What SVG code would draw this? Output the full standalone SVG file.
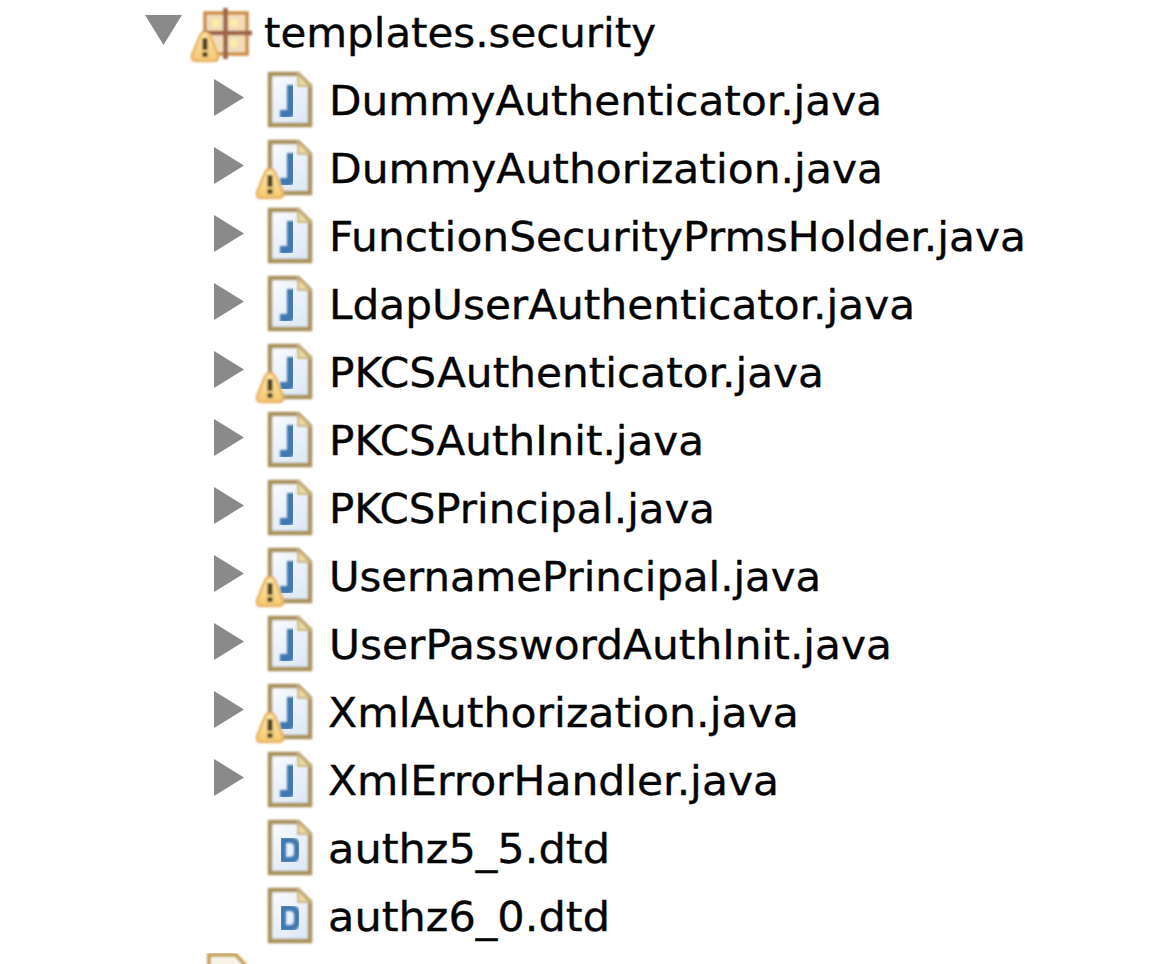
<svg xmlns="http://www.w3.org/2000/svg" width="1164" height="964" viewBox="0 0 1164 964">
<style>
text{font-family:"DejaVu Sans","Liberation Sans",sans-serif;font-size:40px;fill:#050505;stroke:#050505;stroke-width:.35}
.tri{fill:#8a8a8a}
.glyph{fill:none;stroke:#3f78b0;stroke-width:8}
.glyph-d{fill:none;stroke:#3f78b0;stroke-width:6}
</style>
<defs>
<linearGradient id="page" x1="0" y1="0" x2="0.6" y2="1"><stop offset="0" stop-color="#fafcff"/><stop offset="1" stop-color="#dfe9f6"/></linearGradient>
<linearGradient id="warn" x1="0" y1="0" x2="0" y2="1"><stop offset="0" stop-color="#fdeaa8"/><stop offset="1" stop-color="#f3c873"/></linearGradient>
<filter id="soft" x="-10%" y="-10%" width="120%" height="120%"><feGaussianBlur stdDeviation="0.8"/></filter>
<g id="file" filter="url(#soft)">
<path d="M270 74H298L310 86V125H270Z" fill="url(#page)" stroke="#a8925c" stroke-width="4.500"/>
<path d="M298 74V86H310Z" fill="#ecd9a4" stroke="#c9b27a" stroke-width="2"/>
</g>
<g id="arrow"><path class="tri" d="M214 79L244 97.500L214 116Z"/></g>
<g id="warnicon" filter="url(#soft)">
<path d="M270 169Q274 169 276 175L283 192Q284 198 279 198H261Q256 198 257 192L264 175Q266 169 270 169Z" fill="url(#warn)" stroke="#e8b265" stroke-width="2.500"/>
<rect x="267.500" y="175" width="5" height="12" fill="#4d3a1a"/><rect x="267.500" y="189" width="5" height="5" fill="#4d3a1a"/>
</g>
<path id="j" class="glyph" filter="url(#soft)" d="M291 85V111Q291 114 288 114H280"/>
<path id="d" class="glyph-d" filter="url(#soft)" d="M283 840H290Q297 840 297 847V853Q297 860 290 860H283Z"/>
</defs>
<g id="package-row">
<path d="M145 15H182L163.500 45Z" class="tri"/>
<g filter="url(#soft)">
<rect x="205" y="13" width="42" height="41" fill="#f3dcba" stroke="#cc8c45" stroke-width="3.500"/>
<circle cx="216" cy="23" r="4" fill="#fbeea8"/><circle cx="234" cy="23" r="4" fill="#fbeea8"/><circle cx="234" cy="43" r="4" fill="#fbeea8"/>
<path d="M225.500 8V59M203 33H252" stroke="#9b6446" stroke-width="4.500" fill="none"/>
</g>
<use href="#warnicon" x="-65" y="-137"/>
<text x="264" y="47" textLength="392" lengthAdjust="spacingAndGlyphs">templates.security</text>
</g>
<g id="DummyAuthenticator"><use href="#arrow"/><use href="#file"/><use href="#j"/><text x="329" y="115" textLength="553" lengthAdjust="spacingAndGlyphs">DummyAuthenticator.java</text></g>
<g id="DummyAuthorization"><use href="#arrow" y="68"/><use href="#file" y="68"/><use href="#j" y="68"/><use href="#warnicon"/><text x="329" y="183" textLength="554" lengthAdjust="spacingAndGlyphs">DummyAuthorization.java</text></g>
<g id="FunctionSecurityPrmsHolder"><use href="#arrow" y="136"/><use href="#file" y="136"/><use href="#j" y="136"/><text x="329" y="251" textLength="697" lengthAdjust="spacingAndGlyphs">FunctionSecurityPrmsHolder.java</text></g>
<g id="LdapUserAuthenticator"><use href="#arrow" y="204"/><use href="#file" y="204"/><use href="#j" y="204"/><text x="329" y="319" textLength="586" lengthAdjust="spacingAndGlyphs">LdapUserAuthenticator.java</text></g>
<g id="PKCSAuthenticator"><use href="#arrow" y="272"/><use href="#file" y="272"/><use href="#j" y="272"/><use href="#warnicon" y="204"/><text x="329" y="387" textLength="495" lengthAdjust="spacingAndGlyphs">PKCSAuthenticator.java</text></g>
<g id="PKCSAuthInit"><use href="#arrow" y="340"/><use href="#file" y="340"/><use href="#j" y="340"/><text x="329" y="455" textLength="375" lengthAdjust="spacingAndGlyphs">PKCSAuthInit.java</text></g>
<g id="PKCSPrincipal"><use href="#arrow" y="408"/><use href="#file" y="408"/><use href="#j" y="408"/><text x="329" y="523" textLength="386" lengthAdjust="spacingAndGlyphs">PKCSPrincipal.java</text></g>
<g id="UsernamePrincipal"><use href="#arrow" y="476"/><use href="#file" y="476"/><use href="#j" y="476"/><use href="#warnicon" y="408"/><text x="329" y="591" textLength="492" lengthAdjust="spacingAndGlyphs">UsernamePrincipal.java</text></g>
<g id="UserPasswordAuthInit"><use href="#arrow" y="544"/><use href="#file" y="544"/><use href="#j" y="544"/><text x="329" y="659" textLength="563" lengthAdjust="spacingAndGlyphs">UserPasswordAuthInit.java</text></g>
<g id="XmlAuthorization"><use href="#arrow" y="612"/><use href="#file" y="612"/><use href="#j" y="612"/><use href="#warnicon" y="544"/><text x="328" y="727" textLength="471" lengthAdjust="spacingAndGlyphs">XmlAuthorization.java</text></g>
<g id="XmlErrorHandler"><use href="#arrow" y="680"/><use href="#file" y="680"/><use href="#j" y="680"/><text x="328" y="795" textLength="451" lengthAdjust="spacingAndGlyphs">XmlErrorHandler.java</text></g>
<g id="authz5_5"><use href="#file" y="748"/><use href="#d"/><text x="328" y="863" textLength="282" lengthAdjust="spacingAndGlyphs">authz5_5.dtd</text></g>
<g id="authz6_0"><use href="#file" y="816"/><use href="#d" y="68"/><text x="328" y="931" textLength="282" lengthAdjust="spacingAndGlyphs">authz6_0.dtd</text></g>
<g id="next-row" filter="url(#soft)"><path d="M209 966V955H236L246 966" fill="#f8f4e8" stroke="#c6a45c" stroke-width="4"/></g>
</svg>
